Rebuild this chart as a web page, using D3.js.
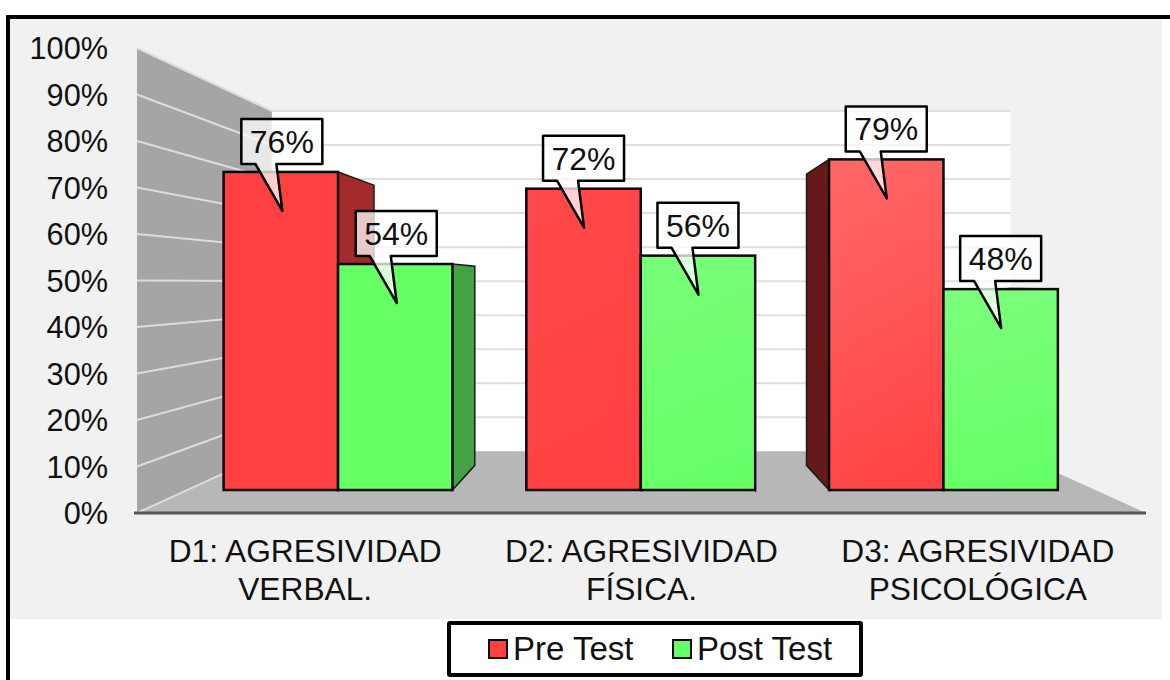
<!DOCTYPE html>
<html>
<head>
<meta charset="utf-8">
<script src="https://cdn.jsdelivr.net/npm/d3@7"></script>
<style>
  html, body { margin: 0; background: #fff; overflow: hidden; }
  svg { display: block; }
  text { font-family: "Liberation Sans", Arial, sans-serif; fill: #111; }
</style>
</head>
<body>
<svg width="1170" height="680"></svg>
<script>
const categories = ['D1', 'D2', 'D3'];
const categoryLines = [
  ['D1: AGRESIVIDAD', 'VERBAL.'],
  ['D2: AGRESIVIDAD', 'FÍSICA.'],
  ['D3: AGRESIVIDAD', 'PSICOLÓGICA']
];
const seriesNames = ['Pre Test', 'Post Test'];
const preTest = [0.76, 0.72, 0.79];
const postTest = [0.54, 0.56, 0.48];
const yTicks = [0, 0.1, 0.2, 0.3, 0.4, 0.5, 0.6, 0.7, 0.8, 0.9, 1];

const svg = d3.select('svg');

// the 3d box is a plain perspective: everything slides towards one point
const vp = [640, 283];
const wallDepth = 0.268;
const barDepth = 0.1;
const sideDepth = 0.119;
const toVp = (p, t) => [p[0] + (vp[0] - p[0]) * t, p[1] + (vp[1] - p[1]) * t];

const xLeft = 137;
const xRight = 1146;
const yFront = d3.scaleLinear().domain([0, 1]).range([513, 48]);
const yBack = d3.scaleLinear().domain([0, 1]).range([toVp([0, 513], wallDepth)[1], toVp([0, 48], wallDepth)[1]]);
const yBar = d3.scaleLinear().domain([0, 1]).range([490, 71.5]);

const xFront = d3.scaleBand().domain(categories).range([xLeft, xRight]);
const xBar = d3.scaleBand().domain(categories)
    .range([toVp([xLeft, 0], barDepth)[0] - 0.6, toVp([xRight, 0], barDepth)[0] - 0.6])
    .paddingInner(0.244)
    .paddingOuter(0.122);
const xSeries = d3.scaleBand().domain(seriesNames).range([0, xBar.bandwidth()]);

const backLeft = toVp([xLeft, 0], wallDepth)[0];
const backRight = toVp([xRight, 0], wallDepth)[0];
const poly = d3.line().curve(d3.curveLinearClosed);

const redFill = '#ff4040';
const greenFill = '#66ff66';

// background
svg.append('rect').attr('x', 10).attr('y', 18).attr('width', 1152).attr('height', 601).attr('fill', '#f1f1f1');
svg.append('path').attr('d', 'M8,680V17H1170').attr('fill', 'none').attr('stroke', '#000').attr('stroke-width', 4);

// gradients for the lighter bars
const defs = svg.append('defs');
function gradient(id, top, bottom) {
  const g = defs.append('linearGradient').attr('id', id)
      .attr('x1', 0.3).attr('y1', 0).attr('x2', 0.5).attr('y2', 1);
  g.append('stop').attr('offset', '0%').attr('stop-color', top);
  g.append('stop').attr('offset', '100%').attr('stop-color', bottom);
}
gradient('red-D2', '#ff4848', '#ff4040');
gradient('red-D3', '#ff6666', '#ff4444');
gradient('green-D2', '#78ff78', '#66ff66');
gradient('green-D3', '#7cff7c', '#66ff66');

// back wall, side wall, floor
svg.append('rect')
    .attr('x', backLeft).attr('y', yBack(1))
    .attr('width', backRight - backLeft).attr('height', yBack(0) - yBack(1))
    .attr('fill', '#fff');
svg.append('path')
    .attr('d', poly([[xLeft, yFront(0)], [xLeft, yFront(1)], [backLeft, yBack(1)], [backLeft, yBack(0)]]))
    .attr('fill', '#a5a5a5');
svg.append('path')
    .attr('d', poly([[xLeft, yFront(0)], [xRight, yFront(0)], [backRight, yBack(0)], [backLeft, yBack(0)]]))
    .attr('fill', '#b7b7b7');

svg.selectAll('line.backGrid')
    .data(yTicks.slice(1))
    .enter()
    .append('line')
    .attr('class', 'backGrid')
    .attr('x1', backLeft).attr('x2', backRight)
    .attr('y1', d => yBack(d)).attr('y2', d => yBack(d))
    .style('stroke', '#dfdfdf')
    .style('stroke-width', '2px');
svg.selectAll('line.wallGrid')
    .data(yTicks)
    .enter()
    .append('line')
    .attr('class', 'wallGrid')
    .attr('x1', xLeft).attr('x2', backLeft)
    .attr('y1', d => yFront(d)).attr('y2', d => yBack(d))
    .style('stroke', '#dcdcdc')
    .style('stroke-width', '2px');

svg.append('line')
    .attr('x1', xLeft - 3).attr('x2', xRight)
    .attr('y1', yFront(0)).attr('y2', yFront(0))
    .style('stroke', '#555')
    .style('stroke-width', '3px');

// bars
const bars = [];
categories.forEach((c, i) => {
  bars.push({ cat: c, series: seriesNames[0], value: preTest[i], kind: 'red' });
  bars.push({ cat: c, series: seriesNames[1], value: postTest[i], kind: 'green' });
});
const sideColor = { D1: { red: '#a52a2a', green: '#43a343' }, D2: { red: '#a52a2a', green: '#43a343' }, D3: { red: '#661919', green: '#43a343' } };
const barLeft = d => xBar(d.cat) + xSeries(d.series);
const barRight = d => barLeft(d) + xSeries.bandwidth();

function sidePoints(x, d) {
  const top = [x, yBar(d.value)];
  const bottom = [x, yBar(0)];
  return [top, toVp(top, sideDepth), toVp(bottom, sideDepth), bottom];
}
svg.selectAll('path.sideL')
    .data(bars)
    .enter()
    .append('path')
    .attr('class', 'sideL')
    .attr('d', d => poly(sidePoints(barLeft(d), d)))
    .attr('fill', d => sideColor[d.cat][d.kind])
    .attr('stroke', '#1a1a1a')
    .attr('stroke-width', 1.5);
svg.selectAll('path.sideR')
    .data(bars)
    .enter()
    .append('path')
    .attr('class', 'sideR')
    .attr('d', d => poly(sidePoints(barRight(d), d)))
    .attr('fill', d => sideColor[d.cat][d.kind])
    .attr('stroke', '#1a1a1a')
    .attr('stroke-width', 1.5);
svg.selectAll('rect.bar')
    .data(bars)
    .enter()
    .append('rect')
    .attr('class', 'bar')
    .attr('x', barLeft)
    .attr('y', d => yBar(d.value))
    .attr('width', xSeries.bandwidth())
    .attr('height', d => yBar(0) - yBar(d.value))
    .attr('fill', d => d.cat === 'D1' ? (d.kind === 'red' ? redFill : greenFill) : `url(#${d.kind}-${d.cat})`)
    .attr('stroke', '#0a0a0a')
    .attr('stroke-width', 2.5);

// callouts with the data labels, the first pair sits a bit further right
const calloutNudge = { D1: 1, D2: 0, D3: 0 };
const callouts = svg.selectAll('g.callout')
    .data(bars)
    .enter()
    .append('g')
    .attr('class', 'callout')
    .attr('transform', d => `translate(${barLeft(d) + xSeries.bandwidth() / 2 - 1.5 + calloutNudge[d.cat]}, ${yBar(d.value) - 1})`);
callouts.append('path')
    .attr('d', 'M-39,-52H42V-7H-4L2,40L-25,-7H-39Z')
    .attr('fill', '#fff')
    .attr('fill-opacity', 0.75)
    .attr('stroke', '#000')
    .attr('stroke-width', 2.5)
    .attr('stroke-linejoin', 'round');
callouts.append('text')
    .attr('x', 1.5)
    .attr('y', -18)
    .attr('text-anchor', 'middle')
    .style('font-size', '32px')
    .text(d => d3.format('.0%')(d.value));

// axes
const yAxis = d3.axisLeft(yFront)
    .tickValues(yTicks)
    .tickFormat(d3.format('.0%'))
    .tickSize(0)
    .tickPadding(0);
const yAxisG = svg.append('g')
    .attr('id', 'yAxisG')
    .attr('transform', 'translate(108, 1)')
    .call(yAxis);
yAxisG.select('.domain').remove();
yAxisG.selectAll('text').style('font-size', '30.7px').attr('font-family', null);
yAxisG.attr('font-family', null).attr('font-size', null);

svg.selectAll('text.catLabel')
    .data(categories)
    .enter()
    .append('text')
    .attr('class', 'catLabel')
    .attr('text-anchor', 'middle')
    .style('font-size', '31.7px')
    .each(function (c, i) {
      const cx = xFront(c) + xFront.bandwidth() / 2;
      d3.select(this).selectAll('tspan')
          .data(categoryLines[i])
          .enter()
          .append('tspan')
          .attr('x', cx)
          .attr('y', (d, j) => 562 + j * 37.5)
          .text(d => d);
    });

// legend
svg.append('rect')
    .attr('x', 449).attr('y', 623).attr('width', 412).attr('height', 52)
    .attr('rx', 1)
    .attr('fill', '#fff')
    .attr('stroke', '#000')
    .attr('stroke-width', 4);
const legendX = d3.scaleOrdinal().domain(seriesNames).range([489, 673]);
const legend = svg.selectAll('g.legendItem')
    .data(seriesNames)
    .enter()
    .append('g')
    .attr('class', 'legendItem')
    .attr('transform', d => `translate(${legendX(d)}, 640)`);
legend.append('rect')
    .attr('width', 18).attr('height', 18)
    .attr('fill', (d, i) => [redFill, greenFill][i])
    .attr('stroke', '#0a0a0a')
    .attr('stroke-width', 2);
legend.append('text')
    .attr('x', 24)
    .attr('y', 20)
    .style('font-size', '33px')
    .text(d => d);
</script>
</body>
</html>
